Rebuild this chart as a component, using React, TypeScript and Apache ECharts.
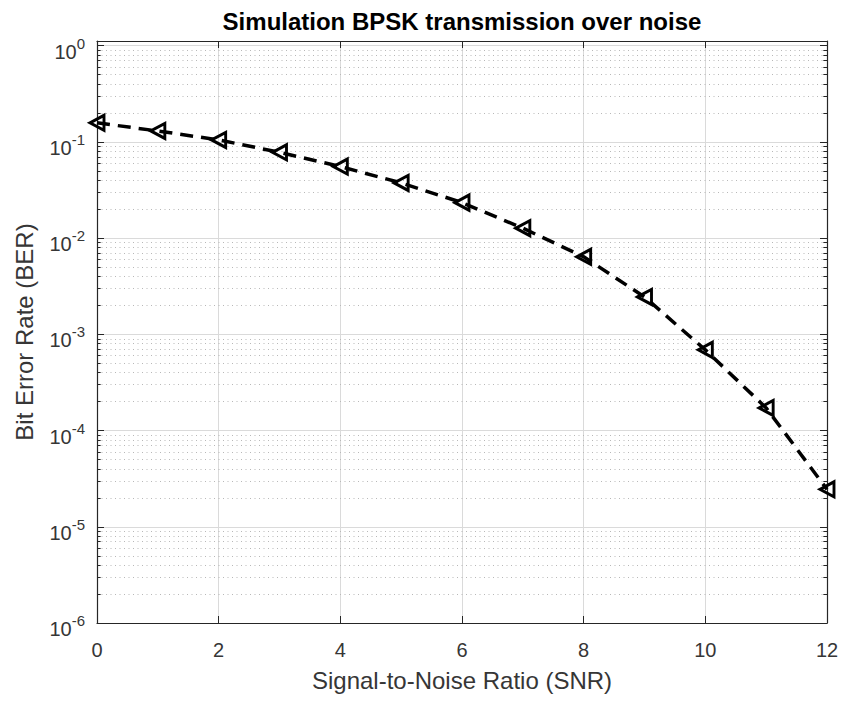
import React, { useEffect, useRef } from "react";
import * as echarts from "echarts";

const SNR = [0, 1, 2, 3, 4, 5, 6, 7, 8, 9, 10, 11, 12];
const BER = [0.158, 0.13, 0.105, 0.078, 0.0555, 0.0375, 0.0234, 0.0127, 0.0064, 0.00245, 0.00069, 0.000172, 0.0000245];
const TITLE = "Simulation BPSK transmission over noise";
const X_NAME = "Signal-to-Noise Ratio (SNR)";
const Y_NAME = "Bit Error Rate (BER)";
const X_MIN = 0;
const X_MAX = 12;
const X_STEP = 2;
const Y_MIN = 1e-6;
const Y_MAX = 1.12;
const DECADES = [-6, -5, -4, -3, -2, -1];
const MINOR_MULT = [2, 3, 4, 5, 6, 7, 8, 9];

const FONT = "'Liberation Sans', Arial, Helvetica, sans-serif";
const AXIS_COLOR = "#262626";
const LABEL_COLOR = "#363636";

export default function App() {
  const ref = useRef<HTMLDivElement>(null);
  useEffect(() => {
    if (!ref.current) return;
    const chart = echarts.init(ref.current, undefined, { renderer: "svg" });
    const minorVals: number[] = [];
    DECADES.forEach((k) => MINOR_MULT.forEach((m) => minorVals.push(m * Math.pow(10, k))));

    const isPow10 = (v: number) => {
      const l = Math.log10(v);
      return Math.abs(l - Math.round(l)) < 1e-6;
    };
    const yLabel = (v: number) => {
      if (!isPow10(v)) return "";
      return `{b|10}{s|${Math.round(Math.log10(v))}}`;
    };

    const tickLen = 7;
    const commonX = {
      type: "value",
      min: X_MIN,
      max: X_MAX,
      interval: X_STEP,
      axisLine: { show: true, onZero: false, lineStyle: { color: AXIS_COLOR, width: 1.2 } },
      axisTick: { show: true, inside: true, length: tickLen, lineStyle: { color: AXIS_COLOR } },
    };
    const commonY = {
      type: "log",
      logBase: 10,
      min: Y_MIN,
      max: Y_MAX,
      interval: 1,
      axisLine: { show: true, onZero: false, lineStyle: { color: AXIS_COLOR, width: 1.2 } },
      axisTick: { show: true, inside: true, length: tickLen, lineStyle: { color: AXIS_COLOR } },
    };

    const minorGrid = minorVals.map((v) => [
      { coord: [X_MIN, v] },
      { coord: [X_MAX, v] },
    ]);
    const minorTickLeft = minorVals.map((v) => [
      { coord: [X_MIN, v] },
      { coord: [X_MIN + 0.06, v] },
    ]);
    const minorTickRight = minorVals.map((v) => [
      { coord: [X_MAX, v] },
      { coord: [X_MAX - 0.06, v] },
    ]);

    chart.setOption({
      animation: false,
      backgroundColor: "#ffffff",
      textStyle: { fontFamily: FONT },
      grid: { left: 97, right: 18, top: 41, bottom: 79, containLabel: false },
      graphic: [
        {
          type: "text",
          x: 462,
          y: 21,
          style: {
            text: TITLE,
            fontFamily: FONT,
            fontSize: 24,
            fontWeight: "bold",
            fill: "#000000",
            textAlign: "center",
            textVerticalAlign: "middle",
          },
        },
      ],
      xAxis: [
        {
          ...commonX,
          position: "bottom",
          name: X_NAME,
          nameLocation: "middle",
          nameGap: 45,
          nameTextStyle: { fontFamily: FONT, fontSize: 24, color: LABEL_COLOR },
          axisLabel: { show: true, margin: 17, fontFamily: FONT, fontSize: 20, color: LABEL_COLOR },
          splitLine: { show: true, lineStyle: { color: "#dadada", width: 1 } },
        },
        {
          ...commonX,
          position: "top",
          axisLabel: { show: false },
          splitLine: { show: false },
        },
      ],
      yAxis: [
        {
          ...commonY,
          position: "left",
          name: Y_NAME,
          nameLocation: "middle",
          nameGap: 61,
          nameTextStyle: { fontFamily: FONT, fontSize: 24, color: LABEL_COLOR },
          axisLabel: {
            show: true,
            margin: 12,
            formatter: yLabel,
            rich: {
              b: { fontFamily: FONT, fontSize: 20, color: LABEL_COLOR, lineHeight: 20, padding: [12, 0, 0, 0] },
              s: { fontFamily: FONT, fontSize: 15, color: LABEL_COLOR, lineHeight: 16, padding: [0, 0, 5, 0] },
            },
          },
          splitLine: { show: true, lineStyle: { color: "#dadada", width: 1 } },
        },
        {
          ...commonY,
          position: "right",
          axisLabel: { show: false },
          splitLine: { show: false },
        },
      ],
      series: [
        {
          type: "line",
          name: "minor",
          xAxisIndex: 0,
          yAxisIndex: 0,
          data: [],
          silent: true,
          z: 1,
          markLine: {
            silent: true,
            symbol: ["none", "none"],
            label: { show: false },
            animation: false,
            lineStyle: { color: "#b8b8b8", width: 1, type: [1, 3.5] },
            data: minorGrid,
          },
        },
        {
          type: "line",
          name: "minorTicks",
          xAxisIndex: 0,
          yAxisIndex: 0,
          data: [],
          silent: true,
          z: 1,
          markLine: {
            silent: true,
            symbol: ["none", "none"],
            label: { show: false },
            animation: false,
            lineStyle: { color: AXIS_COLOR, width: 1, type: "solid" },
            data: [...minorTickLeft, ...minorTickRight],
          },
        },
        {
          type: "line",
          name: "BER",
          xAxisIndex: 0,
          yAxisIndex: 0,
          data: SNR.map((s, i) => [s, BER[i]]),
          clip: false,
          showAllSymbol: true,
          symbol: "triangle",
          symbolRotate: 90,
          symbolSize: [15, 14],
          z: 5,
          lineStyle: { color: "#000000", width: 3.5, type: [13, 8] },
          itemStyle: { color: "rgba(255,255,255,0)", borderColor: "#000000", borderWidth: 3 },
        },
      ],
    });
    return () => chart.dispose();
  }, []);
  return (
    <div
      ref={ref}
      style={{ position: "fixed", left: 0, top: 0, width: 845, height: 702, background: "#fff" }}
    />
  );
}
